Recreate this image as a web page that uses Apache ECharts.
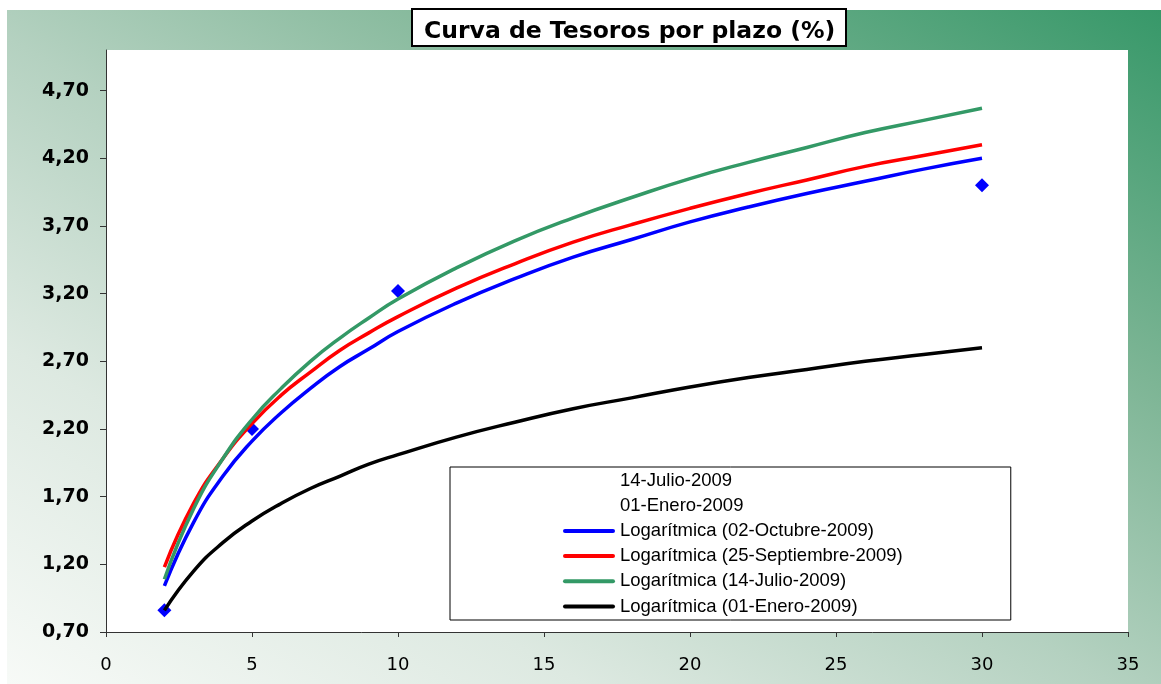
<!DOCTYPE html>
<html>
<head>
<meta charset="utf-8">
<title>Curva de Tesoros por plazo</title>
<script src="https://cdn.jsdelivr.net/npm/echarts@6/dist/echarts.min.js"></script>
<style>
    html, body { margin: 0; padding: 0; background: #fff; }
    #fondo {
        position: absolute; left: 7px; top: 10px; width: 1154px; height: 674px;
        background: linear-gradient(to bottom left, #379869 0%, #7db595 28%, #b4d1c0 52%, #dde9e1 75%, #f7faf7 100%);
    }
    #chart { position: absolute; left: 0; top: 0; width: 1161px; height: 684px; }
</style>
</head>
<body>
<div id="fondo"></div>
<div id="chart"></div>
<script>
// plazos (años) y tasas
const plazos = [2, 3, 4, 5, 6, 7, 8, 9, 10, 12, 14, 16, 18, 20, 22, 24, 26, 28, 30]
const logOctubre = [1.04, 1.51, 1.85, 2.11, 2.32, 2.50, 2.66, 2.79, 2.92, 3.13, 3.31, 3.47, 3.60, 3.73, 3.84, 3.94, 4.03, 4.12, 4.20]
const logSeptiembre = [1.18, 1.65, 1.98, 2.24, 2.45, 2.62, 2.78, 2.91, 3.03, 3.24, 3.42, 3.58, 3.71, 3.83, 3.94, 4.04, 4.14, 4.22, 4.30]
const logJulio = [1.09, 1.61, 1.98, 2.27, 2.50, 2.70, 2.87, 3.02, 3.16, 3.39, 3.59, 3.76, 3.91, 4.05, 4.17, 4.28, 4.39, 4.48, 4.57]
const logEnero = [0.86, 1.15, 1.36, 1.52, 1.65, 1.76, 1.85, 1.94, 2.01, 2.14, 2.25, 2.35, 2.43, 2.51, 2.58, 2.64, 2.70, 2.75, 2.80]

// puntos observados (02-Octubre-2009)
const puntosPlazo = [2, 5, 10, 30]
const puntosOctubre = [0.86, 2.20, 3.22, 4.00]

// marcas del eje y
const yTicks = [0.7, 1.2, 1.7, 2.2, 2.7, 3.2, 3.7, 4.2, 4.7]

const pares = (xs, ys) => xs.map((x, i) => [x, ys[i]])

const chart = echarts.init(document.getElementById('chart'), null, { renderer: 'canvas' })

const lineaLog = (name, color, values) => ({
    name: name,
    type: 'line',
    data: pares(plazos, values),
    smooth: true,
    symbol: 'none',
    lineStyle: { color: color, width: 3.5 },
    itemStyle: { color: color },
    z: 3,
})

// icono de leyenda: solo una raya
const raya = 'path://M2,0 H50 A2,2 0 0 1 50,4 H2 A2,2 0 0 1 2,0 Z'

const option = {
    backgroundColor: 'transparent',
    animation: false,
    title: {
        text: 'Curva de Tesoros por plazo (%)',
        left: 412,
        top: 9,
        padding: [11, 11, 3, 12],
        backgroundColor: '#fff',
        borderColor: '#000',
        borderWidth: 2,
        textStyle: {
            fontFamily: 'DejaVu Sans',
            fontWeight: 'bold',
            fontSize: 23.5,
            lineHeight: 23,
            color: '#000',
        },
    },
    grid: {
        left: 106,
        right: 33,
        top: 50,
        bottom: 52,
        show: true,
        backgroundColor: '#fff',
        borderWidth: 0,
    },
    legend: {
        orient: 'vertical',
        left: 450,
        top: 467,
        align: 'left',
        padding: [4, 108, 4, 113],
        itemGap: 6.2,
        itemWidth: 52,
        itemHeight: 14,
        backgroundColor: '#fff',
        borderColor: '#000',
        borderWidth: 1,
        borderRadius: 0,
        textStyle: {
            fontFamily: 'Liberation Sans',
            fontSize: 18.5,
            lineHeight: 18,
            color: '#000',
        },
        data: [
            { name: '14-Julio-2009', icon: 'none' },
            { name: '01-Enero-2009', icon: 'none' },
            { name: 'Logarítmica (02-Octubre-2009)', icon: raya },
            { name: 'Logarítmica (25-Septiembre-2009)', icon: raya },
            { name: 'Logarítmica (14-Julio-2009)', icon: raya },
            { name: 'Logarítmica (01-Enero-2009)', icon: raya },
        ],
    },
    xAxis: {
        type: 'value',
        min: 0,
        max: 35,
        interval: 5,
        splitLine: { show: false },
        axisLine: { show: true, onZero: false, lineStyle: { color: '#333', width: 1 } },
        axisTick: { show: true, inside: false, length: 5, lineStyle: { color: '#333' } },
        axisLabel: {
            margin: 24,
            fontFamily: 'DejaVu Sans',
            fontSize: 18,
            color: '#000',
        },
    },
    yAxis: {
        type: 'value',
        min: 0.7,
        max: 5.0,
        splitLine: { show: false },
        axisLine: { show: true, onZero: false, lineStyle: { color: '#333', width: 1 } },
        axisTick: { show: true, length: 6, customValues: yTicks, lineStyle: { color: '#333' } },
        axisLabel: {
            customValues: yTicks,
            margin: 17,
            fontFamily: 'DejaVu Sans',
            fontWeight: 'bold',
            fontSize: 19,
            color: '#000',
            formatter: (v) => v.toFixed(2).replace('.', ','),
        },
    },
    series: [
        {
            name: '02-Octubre-2009',
            type: 'scatter',
            data: pares(puntosPlazo, puntosOctubre),
            symbol: 'diamond',
            symbolSize: 14,
            itemStyle: { color: '#0000ff', opacity: 1 },
            z: 2,
        },
        // series sin marcador visible
        { name: '14-Julio-2009', type: 'scatter', data: [], symbol: 'none' },
        { name: '01-Enero-2009', type: 'scatter', data: [], symbol: 'none' },
        lineaLog('Logarítmica (02-Octubre-2009)', '#0000ff', logOctubre),
        lineaLog('Logarítmica (25-Septiembre-2009)', '#ff0000', logSeptiembre),
        lineaLog('Logarítmica (14-Julio-2009)', '#339966', logJulio),
        lineaLog('Logarítmica (01-Enero-2009)', '#000000', logEnero),
    ],
}

chart.setOption(option)
window.addEventListener('resize', chart.resize)
</script>
</body>
</html>
